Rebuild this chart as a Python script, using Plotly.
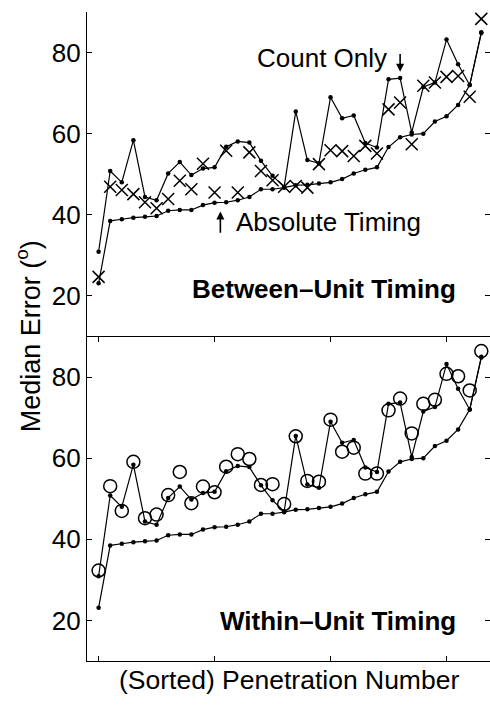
import plotly.graph_objects as go

# x positions (sorted penetration index)
penetration = list(range(34))

absolute_timing = [23.1, 38.5, 38.9, 39.3, 39.5, 39.7, 41.0, 41.2, 41.2, 42.4, 43.0, 43.1,
                   43.6, 44.4, 46.3, 46.3, 46.7, 47.3, 47.4, 47.7, 48.0, 48.8, 50.2, 51.1,
                   51.7, 56.7, 59.1, 59.8, 60.0, 63.0, 64.3, 67.1, 72.0, 84.8]
count_only = [30.9, 50.8, 48.0, 58.4, 44.4, 43.6, 50.2, 53.0, 49.8, 51.4, 51.7, 56.8,
              58.1, 57.8, 53.3, 49.6, 46.9, 65.5, 53.5, 52.7, 69.0, 63.8, 64.5, 57.7,
              56.6, 73.4, 73.7, 60.3, 71.5, 72.6, 83.2, 77.1, 72.0, 85.0]
between_unit = [24.7, 46.9, 46.1, 45.1, 43.1, 41.6, 43.9, 48.4, 46.3, 52.6, 45.5, 55.8,
                45.5, 55.4, 50.8, 48.5, 46.9, 47.1, 46.7, 52.5, 55.9, 55.7, 54.5, 57.0,
                55.1, 66.0, 67.7, 57.4, 71.8, 72.6, 74.0, 74.2, 69.1, 88.3]
within_unit = [32.3, 53.1, 47.0, 59.1, 45.2, 46.1, 50.9, 56.6, 48.9, 53.0, 51.6, 57.9,
               61.0, 59.8, 53.4, 53.6, 48.7, 65.4, 54.4, 54.2, 69.5, 61.6, 62.6, 56.2,
               56.2, 71.8, 74.7, 66.1, 73.4, 74.4, 80.8, 80.2, 76.7, 86.4]

y_ticks = [20, 40, 60, 80]
x_ticks = [0, 10, 20, 30]

FONT = "Liberation Sans, Arial, Helvetica, sans-serif"

fig = go.Figure()

def line_trace(y, yaxis):
    return go.Scatter(x=penetration, y=y, mode="lines+markers", yaxis=yaxis, xaxis="x",
                      line=dict(color="black", width=1.2),
                      marker=dict(color="black", size=4.5), showlegend=False, cliponaxis=False)

for ax in ["y", "y2"]:
    fig.add_trace(line_trace(absolute_timing, ax))
    fig.add_trace(line_trace(count_only, ax))

fig.add_trace(go.Scatter(x=penetration, y=between_unit, mode="markers", yaxis="y", xaxis="x",
                         marker=dict(symbol="x-thin-open", size=12, color="black",
                                     line=dict(color="black", width=1.5)),
                         showlegend=False, cliponaxis=False))
fig.add_trace(go.Scatter(x=penetration, y=within_unit, mode="markers", yaxis="y2", xaxis="x",
                         marker=dict(symbol="circle-open", size=13, color="black",
                                     line=dict(color="black", width=1.5)),
                         showlegend=False, cliponaxis=False))

axis_common = dict(showline=True, linecolor="black", linewidth=1.2, mirror="ticks",
                   ticks="inside", ticklen=5, tickcolor="black", tickwidth=1,
                   showgrid=False, zeroline=False)

fig.update_layout(
    width=490, height=706,
    margin=dict(l=87, r=0, t=12, b=45),
    paper_bgcolor="white", plot_bgcolor="white",
    font=dict(family=FONT, color="black", size=26),
    xaxis=dict(range=[-1, 33.75], tickvals=x_ticks, showticklabels=False, anchor="y2",
               **axis_common),
    yaxis=dict(domain=[0.5, 1.0], range=[10, 90], tickvals=y_ticks,
               tickfont=dict(size=26), **axis_common),
    yaxis2=dict(domain=[0.0, 0.5], range=[10, 90], tickvals=y_ticks,
                tickfont=dict(size=26), **axis_common),
    xaxis2=dict(overlaying="x", anchor="y", range=[-1, 33.75], tickvals=x_ticks,
                showticklabels=False, **axis_common),
)

annotations = [
    dict(text="Count Only", x=13.45, y=78.6, xref="x", yref="y", xanchor="left",
         yanchor="middle", showarrow=False, font=dict(size=26)),
    dict(text="", x=26, y=75.3, xref="x", yref="y", ax=26, ay=80.0, axref="x", ayref="y",
         showarrow=True, arrowhead=2, arrowsize=1, arrowwidth=1.6, arrowcolor="black"),
    dict(text="Absolute Timing", x=11.7, y=38.2, xref="x", yref="y", xanchor="left",
         yanchor="middle", showarrow=False, font=dict(size=26)),
    dict(text="", x=10.5, y=40.8, xref="x", yref="y", ax=10.5, ay=35.2, axref="x", ayref="y",
         showarrow=True, arrowhead=2, arrowsize=1, arrowwidth=1.6, arrowcolor="black"),
    dict(text="<b>Between\u2013Unit Timing</b>", x=31.0, y=21.6, xref="x", yref="y",
         xanchor="right", yanchor="middle", showarrow=False, font=dict(size=26)),
    dict(text="<b>Within\u2013Unit Timing</b>", x=31.0, y=19.8, xref="x", yref="y2",
         xanchor="right", yanchor="middle", showarrow=False, font=dict(size=26)),
    dict(text="Median Error (<sup>o</sup>)", x=-0.147, y=0.5, xref="paper", yref="paper",
         textangle=-90, xanchor="center", yanchor="middle", showarrow=False,
         font=dict(size=27)),
    dict(text="(Sorted) Penetration Number", x=0.5, y=-0.029, xref="paper", yref="paper",
         xanchor="center", yanchor="middle", showarrow=False, font=dict(size=26.5)),
]
fig.update_layout(annotations=annotations)

fig.write_html("out.html")
